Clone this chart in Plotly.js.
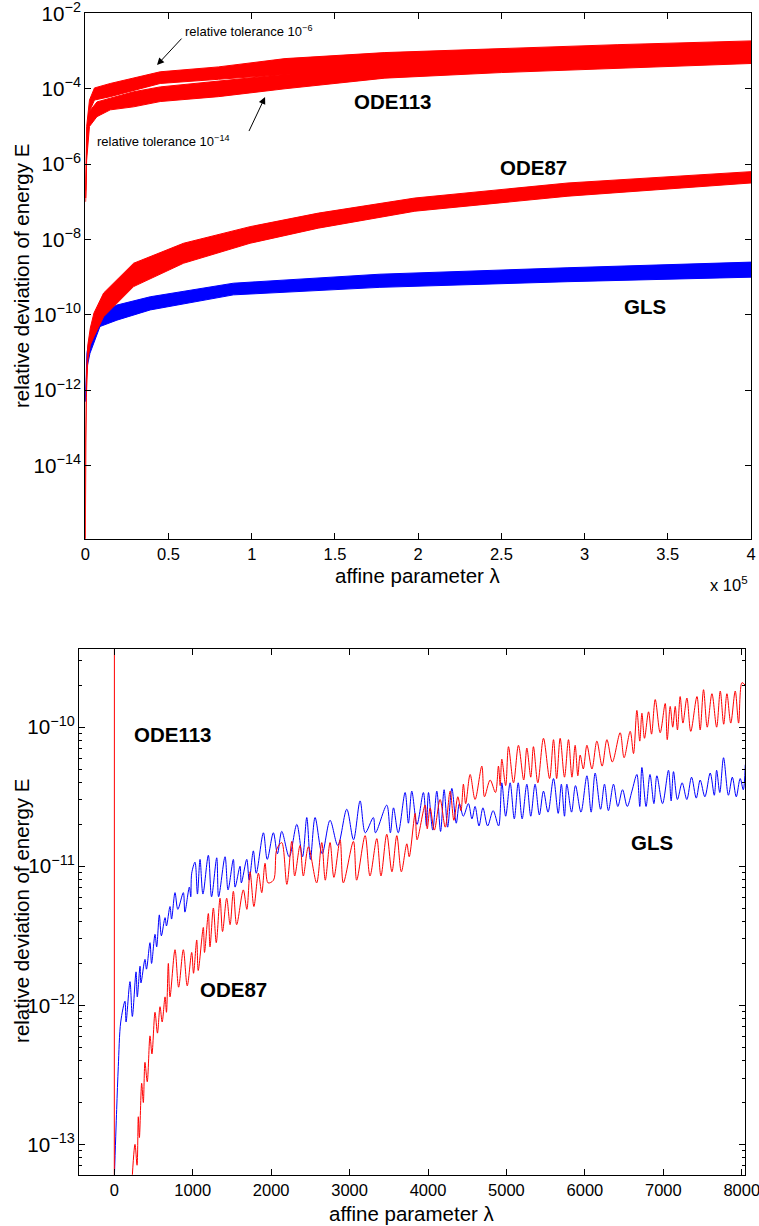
<!DOCTYPE html>
<html><head><meta charset="utf-8">
<script src="https://cdn.plot.ly/plotly-3.0.1.min.js"></script>
<style>html,body{margin:0;padding:0;background:#fff}#chart{width:759px;height:1226px}</style>
</head><body><div id="chart"></div>
<script>
// ---------- TOP PANEL (long integration, bands) ----------
const topTickVals = [0, 50000, 100000, 150000, 200000, 250000, 300000, 350000, 400000];
const topTickText = ['0', '0.5', '1', '1.5', '2', '2.5', '3', '3.5', '4'];

// ODE113, relative tolerance 1e-6 (upper/lower envelope of the band)
const lamOde113Tol6 = [200, 800, 2500, 5500, 15000, 45000, 80000, 120000, 180000, 250000, 320000, 400000];
const ode113Tol6Top = [2.00e-7, 1.00e-5, 5.01e-5, 1.05e-4, 1.38e-4, 2.82e-4, 3.80e-4, 6.31e-4, 9.12e-4, 1.17e-3, 1.48e-3, 1.86e-3];
const ode113Tol6Bot = [1.26e-7, 2.51e-6, 2.51e-5, 5.01e-5, 6.17e-5, 1.38e-4, 1.78e-4, 2.40e-4, 3.16e-4, 3.80e-4, 4.37e-4, 5.01e-4];

// ODE113, relative tolerance 1e-14
const lamOde113Tol14 = [200, 800, 2500, 7000, 15000, 29000, 45000, 80000, 120000, 180000, 250000, 320000, 400000];
const ode113Tol14Top = [1.26e-7, 3.98e-6, 2.51e-5, 4.47e-5, 5.62e-5, 8.32e-5, 1.12e-4, 1.58e-4, 2.40e-4, 3.98e-4, 5.62e-4, 7.94e-4, 1.00e-3];
const ode113Tol14Bot = [1.00e-7, 1.26e-6, 1.00e-5, 1.82e-5, 2.75e-5, 3.31e-5, 4.57e-5, 6.17e-5, 1.00e-4, 1.91e-4, 2.69e-4, 3.55e-4, 4.68e-4];

// ODE87
const lamOde87Long = [0, 100, 600, 1500, 3000, 5200, 11000, 29000, 59000, 99000, 140000, 198000, 290000, 400000];
const ode87LongTop = [1.0e-16, 5.01e-14, 2.00e-12, 1.58e-11, 4.47e-11, 1.12e-10, 3.80e-10, 2.34e-9, 7.94e-9, 2.19e-8, 5.01e-8, 1.26e-7, 3.16e-7, 6.31e-7];
const ode87LongBot = [1.0e-16, 3.98e-14, 6.31e-13, 6.31e-12, 1.58e-11, 2.63e-11, 8.91e-11, 5.62e-10, 2.34e-9, 7.94e-9, 2.00e-8, 5.62e-8, 1.41e-7, 3.16e-7];

// GLS
const lamGlsLong = [0, 300, 1000, 2800, 8800, 19000, 39000, 89000, 177000, 290000, 400000];
const glsLongTop = [5.0e-13, 1.58e-12, 1.00e-11, 2.63e-11, 1.10e-10, 1.82e-10, 3.02e-10, 6.92e-10, 1.20e-9, 1.78e-9, 2.51e-9];
const glsLongBot = [5.0e-13, 1.00e-12, 3.98e-12, 9.55e-12, 4.90e-11, 7.24e-11, 1.35e-10, 3.39e-10, 5.37e-10, 7.59e-10, 1.00e-9];

// ---------- BOTTOM PANEL (short integration, peaks/troughs) ----------
const lamOde113Short = [0, 2];
const ode113Short = [1.0e-14, 1.0e-6];

const lamGlsShort = [
  0, 30, 51, 82, 136, 150, 200, 230, 277, 293,
  328, 340, 391, 410, 455, 475, 519, 540, 574, 600,
  647, 665, 710, 730, 774, 810, 880, 900, 957, 975,
  987, 1029, 1060, 1093, 1130, 1199, 1240, 1306, 1330, 1412,
  1450, 1518, 1540, 1603, 1620, 1689, 1720, 1773, 1810, 1901,
  1950, 2028, 2080, 2135, 2230, 2327, 2400, 2454, 2500, 2560,
  2650, 2751, 2850, 2964, 3050, 3134, 3200, 3303, 3330, 3474,
  3520, 3560, 3620, 3708, 3750, 3793, 3860, 3941, 3980, 4006,
  4060, 4112, 4160, 4205, 4250, 4304, 4360, 4400, 4450, 4515,
  4560, 4600, 4650, 4700, 4760, 4830, 4900, 4941, 4990, 5047,
  5100, 5150, 5200, 5260, 5310, 5365, 5420, 5472, 5530, 5600,
  5660, 5700, 5740, 5770, 5830, 5880, 5950, 6026, 6080, 6131,
  6200, 6250, 6300, 6365, 6420, 6480, 6540, 6600, 6663, 6700,
  6727, 6780, 6830, 6880, 6918, 6990, 7066, 7100, 7130, 7180,
  7240, 7300, 7360, 7420, 7470, 7530, 7598, 7650, 7680, 7720,
  7768, 7830, 7880, 7930, 7980, 8020, 8045];
const glsShort = [
  5.62e-14, 1.78e-13, 3.63e-13, 7.59e-13, 1.07e-12, 7.59e-13, 1.48e-12, 8.32e-13, 1.74e-12, 1.15e-12,
  1.91e-12, 1.45e-12, 2.14e-12, 1.82e-12, 2.82e-12, 2.00e-12, 3.24e-12, 2.63e-12, 4.47e-12, 3.16e-12,
  4.27e-12, 3.72e-12, 5.13e-12, 4.17e-12, 6.46e-12, 4.90e-12, 6.46e-12, 4.68e-12, 7.08e-12, 6.03e-12,
  8.91e-12, 1.07e-11, 6.31e-12, 1.12e-11, 6.31e-12, 1.20e-11, 6.03e-12, 1.15e-11, 6.03e-12, 1.17e-11,
  6.76e-12, 1.12e-11, 7.08e-12, 1.00e-11, 7.59e-12, 1.12e-11, 7.94e-12, 1.29e-11, 8.91e-12, 1.74e-11,
  1.12e-11, 1.74e-11, 1.23e-11, 1.78e-11, 1.17e-11, 2.00e-11, 1.17e-11, 2.24e-11, 1.12e-11, 2.24e-11,
  1.23e-11, 2.14e-11, 1.41e-11, 2.57e-11, 1.55e-11, 2.95e-11, 1.74e-11, 2.24e-11, 1.74e-11, 2.75e-11,
  1.74e-11, 2.63e-11, 1.74e-11, 3.39e-11, 2.04e-11, 3.47e-11, 2.00e-11, 3.39e-11, 1.95e-11, 3.39e-11,
  1.82e-11, 3.47e-11, 1.78e-11, 3.55e-11, 1.91e-11, 3.63e-11, 2.04e-11, 2.82e-11, 2.29e-11, 2.82e-11,
  2.19e-11, 2.69e-11, 1.95e-11, 2.63e-11, 1.95e-11, 2.51e-11, 1.95e-11, 3.98e-11, 2.29e-11, 3.98e-11,
  2.19e-11, 3.98e-11, 2.19e-11, 3.89e-11, 2.29e-11, 3.89e-11, 2.34e-11, 3.47e-11, 2.45e-11, 4.27e-11,
  2.40e-11, 3.89e-11, 2.29e-11, 3.89e-11, 2.45e-11, 3.80e-11, 2.45e-11, 4.47e-11, 2.45e-11, 4.68e-11,
  2.57e-11, 3.89e-11, 2.51e-11, 3.89e-11, 2.69e-11, 3.55e-11, 2.69e-11, 3.47e-11, 4.57e-11, 2.69e-11,
  5.13e-11, 2.69e-11, 4.57e-11, 2.82e-11, 4.47e-11, 2.82e-11, 4.90e-11, 2.95e-11, 4.79e-11, 3.02e-11,
  3.98e-11, 3.02e-11, 4.37e-11, 3.09e-11, 4.17e-11, 3.16e-11, 4.68e-11, 3.24e-11, 4.90e-11, 3.39e-11,
  6.03e-11, 3.24e-11, 4.37e-11, 3.16e-11, 4.27e-11, 3.55e-11, 5.37e-11];

const lamOde87Short = [
  222, 264, 290, 306, 320, 349, 370, 391, 420, 455,
  480, 519, 550, 583, 610, 647, 665, 689, 710, 774,
  820, 880, 930, 987, 1010, 1051, 1070, 1135, 1150, 1199,
  1220, 1263, 1300, 1348, 1380, 1433, 1476, 1518, 1560, 1645,
  1690, 1731, 1780, 1837, 1880, 1922, 1960, 2030, 2071, 2135,
  2200, 2263, 2300, 2368, 2410, 2475, 2580, 2645, 2690, 2751,
  2800, 2879, 2920, 3049, 3090, 3198, 3260, 3347, 3400, 3474,
  3540, 3602, 3660, 3730, 3760, 3836, 3860, 3963, 3990, 4027,
  4080, 4154, 4220, 4282, 4330, 4380, 4420, 4451, 4480, 4537,
  4600, 4686, 4720, 4792, 4860, 4898, 4920, 4941, 4990, 5026,
  5090, 5153, 5220, 5260, 5310, 5344, 5400, 5472, 5550, 5600,
  5640, 5685, 5740, 5791, 5835, 5876, 5910, 5940, 5980, 6026,
  6090, 6153, 6220, 6281, 6350, 6450, 6500, 6578, 6620, 6663,
  6700, 6727, 6760, 6812, 6850, 6897, 6960, 7024, 7050, 7088,
  7120, 7152, 7180, 7215, 7250, 7301, 7350, 7429, 7470, 7513,
  7560, 7620, 7680, 7726, 7770, 7811, 7860, 7917, 7960, 8003,
  8045];
const ode87Short = [
  5.01e-14, 1.00e-13, 7.08e-14, 1.58e-13, 1.12e-13, 2.75e-13, 2.00e-13, 3.89e-13, 2.82e-13, 6.03e-13,
  4.47e-13, 8.91e-13, 6.31e-13, 9.77e-13, 7.59e-13, 1.15e-12, 8.91e-13, 2.00e-12, 1.15e-12, 2.51e-12,
  1.35e-12, 2.51e-12, 1.38e-12, 2.40e-12, 1.70e-12, 2.95e-12, 1.78e-12, 3.63e-12, 2.40e-12, 4.57e-12,
  2.63e-12, 5.01e-12, 2.82e-12, 5.89e-12, 3.39e-12, 5.89e-12, 3.80e-12, 6.61e-12, 3.80e-12, 6.76e-12,
  4.90e-12, 9.12e-12, 5.13e-12, 8.91e-12, 6.46e-12, 1.05e-11, 7.59e-12, 7.94e-12, 1.32e-11, 1.48e-11,
  7.41e-12, 1.51e-11, 8.51e-12, 1.41e-11, 8.51e-12, 1.38e-11, 7.59e-12, 1.48e-11, 7.94e-12, 1.48e-11,
  8.32e-12, 1.55e-11, 7.59e-12, 1.51e-11, 7.94e-12, 1.66e-11, 8.51e-12, 1.58e-11, 8.51e-12, 1.70e-11,
  9.12e-12, 1.66e-11, 9.12e-12, 1.45e-11, 1.17e-11, 2.40e-11, 1.55e-11, 2.75e-11, 1.86e-11, 2.63e-11,
  1.82e-11, 3.02e-11, 1.91e-11, 3.47e-11, 2.14e-11, 3.16e-11, 2.51e-11, 3.89e-11, 2.82e-11, 4.57e-11,
  3.02e-11, 5.25e-11, 3.16e-11, 4.17e-11, 3.39e-11, 5.25e-11, 3.80e-11, 5.89e-11, 3.80e-11, 7.24e-11,
  3.98e-11, 7.41e-11, 4.17e-11, 7.08e-11, 4.37e-11, 7.24e-11, 3.98e-11, 8.32e-11, 4.27e-11, 8.13e-11,
  4.27e-11, 8.32e-11, 4.37e-11, 8.13e-11, 4.37e-11, 7.41e-11, 4.47e-11, 6.31e-11, 5.01e-11, 7.41e-11,
  5.01e-11, 7.94e-11, 5.25e-11, 8.13e-11, 5.62e-11, 9.12e-11, 6.03e-11, 9.33e-11, 6.46e-11, 1.32e-10,
  7.94e-11, 1.26e-10, 8.32e-11, 1.29e-10, 8.91e-11, 1.58e-10, 9.12e-11, 1.48e-10, 8.13e-11, 1.41e-10,
  1.00e-10, 1.41e-10, 9.55e-11, 1.66e-10, 1.07e-10, 1.62e-10, 9.33e-11, 1.66e-10, 9.55e-11, 1.86e-10,
  1.00e-10, 1.74e-10, 1.00e-10, 1.82e-10, 1.05e-10, 1.74e-10, 1.07e-10, 1.82e-10, 1.07e-10, 2.09e-10,
  2.00e-10];

// ---------- styling ----------
const FONT = 'Liberation Sans, Arial, Helvetica, sans-serif';
const RED = '#ff0000', BLUE = '#0000ff';

function band(lam, bot, top, color, xa, ya, name) {
  return [
    {x: lam, y: bot, xaxis: xa, yaxis: ya, mode: 'lines', line: {color: color, width: 1},
     hoverinfo: 'skip', showlegend: false, name: name + ' (lower)'},
    {x: lam, y: top, xaxis: xa, yaxis: ya, mode: 'lines', line: {color: color, width: 1},
     fill: 'tonexty', fillcolor: color, hoverinfo: 'skip', showlegend: false, name: name}
  ];
}

const traces = [].concat(
  band(lamGlsLong, glsLongBot, glsLongTop, BLUE, 'x', 'y', 'GLS'),
  band(lamOde87Long, ode87LongBot, ode87LongTop, RED, 'x', 'y', 'ODE87'),
  band(lamOde113Tol14, ode113Tol14Bot, ode113Tol14Top, RED, 'x', 'y', 'ODE113 tol 1e-14'),
  band(lamOde113Tol6, ode113Tol6Bot, ode113Tol6Top, RED, 'x', 'y', 'ODE113 tol 1e-6'),
  [
    {x: lamGlsShort, y: glsShort, xaxis: 'x2', yaxis: 'y2', mode: 'lines',
     line: {color: BLUE, width: 1, shape: 'spline', smoothing: 0.9}, hoverinfo: 'skip', showlegend: false, name: 'GLS'},
    {x: lamOde87Short, y: ode87Short, xaxis: 'x2', yaxis: 'y2', mode: 'lines',
     line: {color: RED, width: 1, shape: 'spline', smoothing: 0.9}, hoverinfo: 'skip', showlegend: false, name: 'ODE87'},
    {x: lamOde113Short, y: ode113Short, xaxis: 'x2', yaxis: 'y2', mode: 'lines',
     line: {color: RED, width: 1}, hoverinfo: 'skip', showlegend: false, name: 'ODE113'}
  ]
);

const tickFont = {family: FONT, size: 16.5, color: '#000'};
const axBase = {
  ticks: 'inside', ticklen: 6, tickwidth: 1, tickcolor: '#000',
  showline: true, linecolor: '#000', linewidth: 1, mirror: 'ticks',
  showgrid: false, zeroline: false, tickfont: tickFont, automargin: false,
  ticklabeloverflow: 'allow'
};

const titleFont = {family: FONT, size: 20.5, color: '#000'};
const labFont = {family: FONT, size: 20.5, color: '#000'};
const tolFont = {family: FONT, size: 13, color: '#000'};

const annotations = [
  // axis titles
  {xref: 'paper', yref: 'paper', x: 0.029, y: 0.7749, text: 'relative deviation of energy E',
   textangle: -90, showarrow: false, font: titleFont, xanchor: 'center', yanchor: 'middle'},
  {xref: 'paper', yref: 'paper', x: 0.5507, y: 0.5302, text: 'affine parameter λ',
   showarrow: false, font: titleFont, xanchor: 'center', yanchor: 'middle'},
  {xref: 'paper', yref: 'paper', x: 0.9881, y: 0.5237, text: 'x 10<sup>5</sup>',
   showarrow: false, font: tickFont, xanchor: 'right', yanchor: 'middle'},
  {xref: 'paper', yref: 'paper', x: 0.029, y: 0.2570, text: 'relative deviation of energy E',
   textangle: -90, showarrow: false, font: titleFont, xanchor: 'center', yanchor: 'middle'},
  {xref: 'paper', yref: 'paper', x: 0.5428, y: 0.0100, text: 'affine parameter λ',
   showarrow: false, font: titleFont, xanchor: 'center', yanchor: 'middle'},
  // top labels
  {xref: 'x', yref: 'y', x: 184900, y: -4.35, text: '<b>ODE113</b>', showarrow: false, font: labFont},
  {xref: 'x', yref: 'y', x: 269000, y: -6.10, text: '<b>ODE87</b>', showarrow: false, font: labFont},
  {xref: 'x', yref: 'y', x: 336300, y: -9.79, text: '<b>GLS</b>', showarrow: false, font: labFont},
  {xref: 'x', yref: 'y', x: 58700, y: -2.47, text: 'relative tolerance 10<sup>−6</sup>',
   showarrow: false, font: tolFont, xanchor: 'left', yanchor: 'middle'},
  {xref: 'x', yref: 'y', x: 5830, y: -5.39, text: 'relative tolerance 10<sup>−14</sup>',
   showarrow: false, font: tolFont, xanchor: 'left', yanchor: 'middle'},
  // arrows
  {xref: 'x', yref: 'y', x: 43100, y: -3.37, ax: 26, ay: -28, text: ' ', font: {size: 1},
   showarrow: true, arrowhead: 2, arrowsize: 1.4, arrowwidth: 1, arrowcolor: '#000', standoff: 0},
  {xref: 'x', yref: 'y', x: 108000, y: -4.22, ax: -17, ay: 36, text: ' ', font: {size: 1},
   showarrow: true, arrowhead: 2, arrowsize: 1.4, arrowwidth: 1, arrowcolor: '#000', standoff: 0},
  // bottom labels
  {xref: 'x2', yref: 'y2', x: 226, y: -10.055, text: '<b>ODE113</b>', showarrow: false, font: labFont, xanchor: 'left'},
  {xref: 'x2', yref: 'y2', x: 1514, y: -11.887, text: '<b>ODE87</b>', showarrow: false, font: labFont},
  {xref: 'x2', yref: 'y2', x: 6858, y: -10.829, text: '<b>GLS</b>', showarrow: false, font: labFont}
];

const layout = {
  width: 759, height: 1226,
  margin: {l: 0, r: 0, t: 0, b: 0, pad: 0},
  paper_bgcolor: '#fff', plot_bgcolor: '#fff',
  font: {family: FONT, color: '#000'},
  showlegend: false,
  xaxis: Object.assign({}, axBase, {
    domain: [0.1124, 0.9895], anchor: 'y', range: [0, 400000],
    tickmode: 'array', tickvals: topTickVals, ticktext: topTickText
  }),
  yaxis: Object.assign({}, axBase, {
    domain: [0.5606, 0.98915], anchor: 'x', type: 'log', range: [-15.94, -1.998],
    dtick: 2, exponentformat: 'power'
  }),
  xaxis2: Object.assign({}, axBase, {
    domain: [0.1041, 0.9816], anchor: 'y2', range: [-450, 8042], tick0: 0, dtick: 1000
  }),
  yaxis2: Object.assign({}, axBase, {
    domain: [0.04184, 0.47039], anchor: 'x2', type: 'log', range: [-13.218, -9.44],
    dtick: 1, exponentformat: 'power',
    minor: {ticks: 'inside', ticklen: 3, tickwidth: 1, tickcolor: '#000', dtick: 'D1', showgrid: false}
  }),
  annotations: annotations
};

Plotly.newPlot('chart', traces, layout, {staticPlot: true, displayModeBar: false});
</script></body></html>
